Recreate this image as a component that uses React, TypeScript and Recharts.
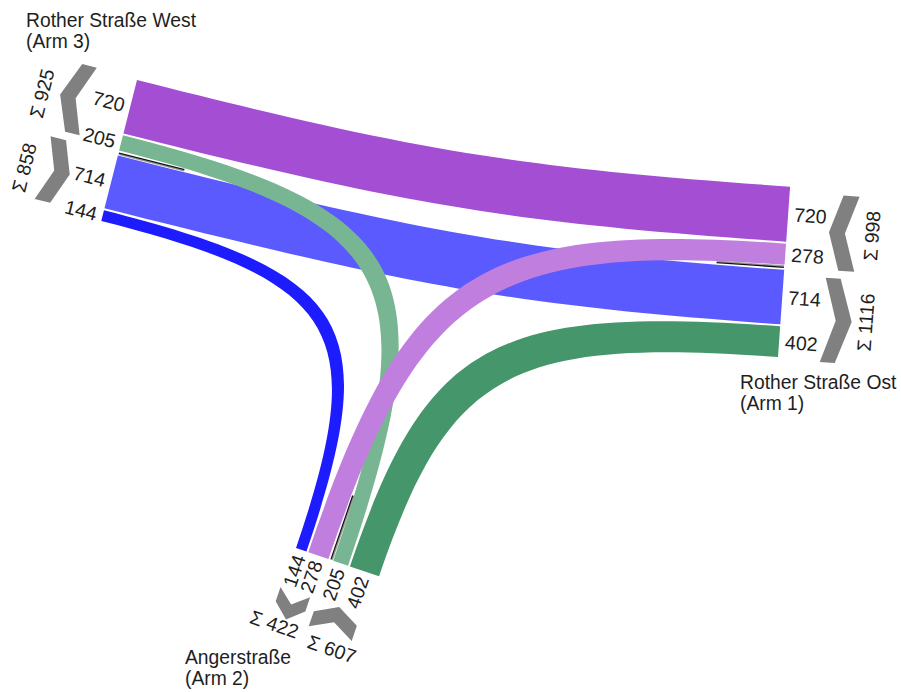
import React from 'react';
import * as Recharts from 'recharts';
import { ComposedChart, XAxis, YAxis, Customized } from 'recharts';

const W = 901;
const H = 692;

// ---------------- data ----------------
const armIds = [1, 2, 3];
const armNames = ['Rother Straße Ost', 'Angerstraße', 'Rother Straße West'];
const armTags = ['(Arm 1)', '(Arm 2)', '(Arm 3)'];
const flowFrom = [1, 1, 3, 3, 2, 2];
const flowTo = [3, 2, 1, 2, 3, 1];
const flowVolumes = [720, 278, 714, 144, 205, 402];

// ---------------- style / layout ----------------
const flowColors = ['#a34ed3', '#c07fde', '#5a5afe', '#1c1cff', '#78b592', '#45966a'];
const drawOrder = [0, 2, 3, 4, 1, 5];
type P2 = [number, number];
const armFaces: Record<number, { origin: P2; dir: P2; title: P2; sumPos: [P2, P2] }> = {
  1: { origin: [778, 357], dir: [12, -169], title: [740, 389], sumPos: [[-3, 85], [-4, 85]] },
  2: { origin: [296, 548], dir: [85, 29], title: [185, 664], sumPos: [[-13, 79], [3, 84]] },
  3: { origin: [137, 80], dir: [-36, 142], title: [26, 27], sumPos: [[0, 89], [-1, 88]] },
};
const ringOrder = [3, 2, 1];
const PX_PER_VEH = 0.0765;
const GAP = 2;
const SEP = 5;
const FONT = '"Liberation Sans", Arial, Helvetica, sans-serif';
const TEXT_COLOR = '#1e1e1e';
const CHEVRON_COLOR = '#808080';

const add = (a: P2, b: P2): P2 => [a[0] + b[0], a[1] + b[1]];
const mul = (a: P2, k: number): P2 => [a[0] * k, a[1] * k];
const unit = (a: P2): P2 => {
  const l = Math.hypot(a[0], a[1]);
  return [a[0] / l, a[1] / l];
};

function buildLayout() {
  const ranges = flowVolumes.map(() => ({ from: [0, 0] as P2, to: [0, 0] as P2 }));
  const groups: Record<number, { inc: P2; out: P2; sep: number; incSum: number; outSum: number }> = {};
  const steps = (a: number, b: number) => (ringOrder.indexOf(b) - ringOrder.indexOf(a) + 3) % 3;
  const idx = flowVolumes.map((_, i) => i);
  for (const a of armIds) {
    const inc = idx.filter((i) => flowTo[i] === a).sort((i, j) => steps(a, flowFrom[j]) - steps(a, flowFrom[i]));
    const out = idx.filter((i) => flowFrom[i] === a).sort((i, j) => steps(a, flowTo[j]) - steps(a, flowTo[i]));
    let u = 0;
    const incStart = u;
    inc.forEach((i, k) => {
      if (k > 0) u += GAP;
      const w = flowVolumes[i] * PX_PER_VEH;
      ranges[i].to = [u, u + w];
      u += w;
    });
    const incEnd = u;
    u += SEP;
    const outStart = u;
    out.forEach((i, k) => {
      if (k > 0) u += GAP;
      const w = flowVolumes[i] * PX_PER_VEH;
      ranges[i].from = [u, u + w];
      u += w;
    });
    const outEnd = u;
    groups[a] = {
      inc: [incStart, incEnd],
      out: [outStart, outEnd],
      sep: incEnd + SEP / 2,
      incSum: inc.reduce((s, i) => s + flowVolumes[i], 0),
      outSum: out.reduce((s, i) => s + flowVolumes[i], 0),
    };
  }
  return { ranges, groups };
}

const usePlotAreaHook = (Recharts as any).usePlotArea as undefined | (() => any);

function Diagram() {
  const area = usePlotAreaHook ? usePlotAreaHook() : null;
  const ox = area && Number.isFinite(area.x) ? area.x : 0;
  const oy = area && Number.isFinite(area.y) ? area.y : 0;
  const kx = area && area.width ? area.width / W : 1;
  const ky = area && area.height ? area.height / H : 1;
  const map = (p: P2): P2 => [ox + p[0] * kx, oy + p[1] * ky];

  const { ranges, groups } = buildLayout();
  const uVec = (a: number) => unit(armFaces[a].dir);
  const nVec = (a: number): P2 => {
    const u = uVec(a);
    return [u[1], -u[0]];
  };
  const face = (a: number, u: number): P2 => add(armFaces[a].origin, mul(uVec(a), u));
  const at = (a: number, u: number, d: number): P2 => add(face(a, u), mul(nVec(a), -d));
  const fmt = (p: P2) => {
    const m = map(p);
    return `${m[0].toFixed(2)},${m[1].toFixed(2)}`;
  };

  const controls = (P: P2, nP: P2, Q: P2, nQ: P2): [P2, P2] => {
    const d: P2 = [Q[0] - P[0], Q[1] - P[1]];
    const det = -nP[0] * nQ[1] + nQ[0] * nP[1];
    const dist = Math.hypot(d[0], d[1]);
    let kP = 0.45 * dist;
    let kQ = 0.45 * dist;
    if (Math.abs(det) > 0.05) {
      const t = (-d[0] * nQ[1] + nQ[0] * d[1]) / det;
      const s = (nP[0] * d[1] - nP[1] * d[0]) / det;
      if (t > 0 && s > 0 && t < 1.5 * dist && s < 1.5 * dist) {
        kP = 0.85 * t;
        kQ = 0.85 * s;
      }
    }
    return [add(P, mul(nP, kP)), add(Q, mul(nQ, kQ))];
  };

  const ribbons = drawOrder.map((i) => {
    const A = flowFrom[i];
    const B = flowTo[i];
    const nA = nVec(A);
    const nB = nVec(B);
    const P1 = face(A, ranges[i].from[0]);
    const Q1 = face(B, ranges[i].to[1]);
    const P2_ = face(A, ranges[i].from[1]);
    const Q2 = face(B, ranges[i].to[0]);
    const [c1, c2] = controls(P1, nA, Q1, nB);
    const [e1, e2] = controls(P2_, nA, Q2, nB);
    const d = `M${fmt(P1)} C${fmt(c1)} ${fmt(c2)} ${fmt(Q1)} L${fmt(Q2)} C${fmt(e2)} ${fmt(e1)} ${fmt(P2_)} Z`;
    return <path key={'r' + i} d={d} fill={flowColors[i]} stroke="none" />;
  });

  const separators = armIds.map((a) => {
    const g = groups[a];
    const p0 = at(a, g.sep, -0.5);
    const p1 = at(a, g.sep, -68);
    const m0 = map(p0);
    const m1 = map(p1);
    const shift = mul(uVec(a), 1.2);
    return (
      <g key={'s' + a}>
        <line x1={m0[0] + shift[0]} y1={m0[1] + shift[1]} x2={m1[0] + shift[0]} y2={m1[1] + shift[1]} stroke="#9a9a9a" strokeWidth={1.6} />
        <line x1={m0[0]} y1={m0[1]} x2={m1[0]} y2={m1[1]} stroke="#111" strokeWidth={1.3} />
      </g>
    );
  });

  const valueLabels: React.ReactNode[] = [];
  flowVolumes.forEach((v, i) => {
    const ends: [number, P2][] = [
      [flowFrom[i], ranges[i].from],
      [flowTo[i], ranges[i].to],
    ];
    ends.forEach(([a, r], k) => {
      const n = nVec(a);
      const inward = n[0] > 0;
      const rd: P2 = inward ? n : mul(n, -1);
      const ang = (Math.atan2(rd[1], rd[0]) * 180) / Math.PI;
      const pos = map(at(a, (r[0] + r[1]) / 2, 6));
      valueLabels.push(
        <text
          key={`v${i}-${k}`}
          x={pos[0]}
          y={pos[1]}
          transform={`rotate(${ang.toFixed(2)} ${pos[0]} ${pos[1]})`}
          textAnchor={inward ? 'end' : 'start'}
          dominantBaseline="central"
          fontFamily={FONT}
          fontSize={19.5}
          fill={TEXT_COLOR}
        >
          {v}
        </text>
      );
    });
  });

  const chevrons: React.ReactNode[] = [];
  const sums: React.ReactNode[] = [];
  armIds.forEach((a) => {
    const g = groups[a];
    const specs: [P2, number, boolean][] = [
      [g.inc, g.incSum, true],
      [g.out, g.outSum, false],
    ];
    specs.forEach(([rg, total, outward], k) => {
      const u0 = rg[0] - 2;
      const u1 = rg[1] - 5;
      const um = (u0 + u1) / 2;
      const pts: [number, number][] = outward
        ? [[u0, 42], [um, 55], [u1, 42], [u1, 57], [um, 71], [u0, 57]]
        : [[u0, 54], [um, 42], [u1, 54], [u1, 70], [um, 58], [u0, 70]];
      const poly = pts.map(([u, d]) => fmt(at(a, u, d))).join(' ');
      chevrons.push(<polygon key={`c${a}-${k}`} points={poly} fill={CHEVRON_COLOR} />);
      const uu = uVec(a);
      const sign = uu[0] > 0 ? 1 : -1;
      const rd: P2 = mul(uu, sign);
      const ang = (Math.atan2(rd[1], rd[0]) * 180) / Math.PI;
      const [du, dd] = armFaces[a].sumPos[k];
      const pos = map(at(a, (rg[0] + rg[1]) / 2 + du * sign, dd));
      sums.push(
        <text
          key={`t${a}-${k}`}
          x={pos[0]}
          y={pos[1]}
          transform={`rotate(${ang.toFixed(2)} ${pos[0]} ${pos[1]})`}
          textAnchor="middle"
          dominantBaseline="central"
          fontFamily={FONT}
          fontSize={19.5}
          fill={TEXT_COLOR}
        >
          {`Σ ${total}`}
        </text>
      );
    });
  });

  const titles = armIds.map((a, k) => {
    const p = map(armFaces[a].title);
    return (
      <text key={'h' + a} x={p[0]} y={p[1]} fontFamily={FONT} fontSize={19.3} fill={TEXT_COLOR}>
        <tspan x={p[0]} y={p[1]}>{armNames[k]}</tspan>
        <tspan x={p[0]} y={p[1] + 20.5}>{armTags[k]}</tspan>
      </text>
    );
  });

  return (
    <g>
      {ribbons}
      {separators}
      {chevrons}
      {valueLabels}
      {sums}
      {titles}
    </g>
  );
}

export default function App() {
  return (
    <div style={{ position: 'absolute', left: 0, top: 0, width: W, height: H, background: '#fff' }}>
      <ComposedChart width={W} height={H} data={[]} margin={{ top: 0, right: 0, bottom: 0, left: 0 }}>
        <XAxis type="number" dataKey="x" domain={[0, W]} hide />
        <YAxis type="number" dataKey="y" domain={[0, H]} reversed hide />
        <Customized component={Diagram} />
      </ComposedChart>
    </div>
  );
}
